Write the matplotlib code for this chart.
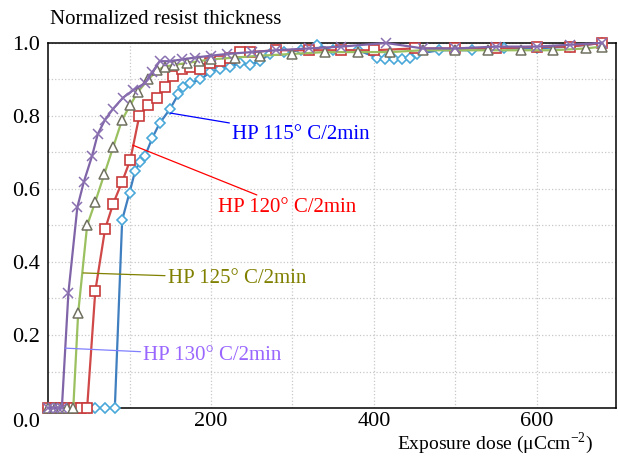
import matplotlib
matplotlib.use("Agg")
import matplotlib.pyplot as plt
import matplotlib.transforms as mtransforms

# dose (uC/cm^2) and normalized thickness
dose_115 = [0, 10, 20, 30, 40, 50, 58, 70, 82, 91, 100, 107, 113, 119, 128, 137, 150,
            160, 166, 174, 187, 199, 211, 223, 236, 248, 260, 272, 290, 310, 330, 350,
            380, 404, 414, 424, 434, 444, 453, 480, 520, 560, 600, 640, 680]
thick_115 = [0, 0, 0, 0, 0, 0, 0, 0, 0, 0.515, 0.59, 0.65, 0.675, 0.69, 0.74, 0.78, 0.82,
             0.86, 0.88, 0.89, 0.90, 0.92, 0.93, 0.935, 0.945, 0.94, 0.95, 0.97, 0.975,
             0.98, 0.995, 0.98, 0.98, 0.96, 0.955, 0.955, 0.955, 0.96, 0.97, 0.98, 0.98,
             0.985, 0.985, 0.99, 1.0]

dose_120 = [0, 8, 16, 24, 32, 40, 48, 58, 70, 80, 91, 101, 112, 123, 134, 144, 153, 164,
            174, 187, 199, 211, 223, 236, 248, 280, 320, 360, 400, 450, 500, 550, 600,
            640, 680]
thick_120 = [0, 0, 0, 0, 0, 0, 0, 0.32, 0.49, 0.56, 0.62, 0.68, 0.80, 0.83, 0.85, 0.88,
             0.91, 0.93, 0.935, 0.93, 0.945, 0.95, 0.96, 0.975, 0.975, 0.98, 0.98, 0.98,
             0.98, 0.985, 0.985, 0.985, 0.99, 0.99, 1.0]

dose_125 = [0, 8, 16, 23, 31, 37, 48, 58, 69, 80, 91, 101, 110, 123, 134, 143, 155, 170,
            185, 200, 230, 260, 300, 340, 380, 420, 460, 500, 540, 580, 620, 660, 680]
thick_125 = [0, 0, 0, 0, 0, 0.26, 0.50, 0.565, 0.64, 0.715, 0.79, 0.83, 0.865, 0.90,
             0.925, 0.935, 0.94, 0.945, 0.95, 0.955, 0.96, 0.965, 0.97, 0.975, 0.975,
             0.975, 0.98, 0.98, 0.98, 0.98, 0.98, 0.985, 0.99]

dose_130 = [0, 6, 12, 17, 25, 36, 44, 54, 61, 70, 80, 92, 104, 119, 128, 137, 150, 165,
            180, 200, 220, 250, 280, 320, 360, 415, 460, 500, 550, 600, 640, 680]
thick_130 = [0, 0, 0, 0, 0.315, 0.55, 0.62, 0.69, 0.75, 0.79, 0.82, 0.85, 0.87, 0.89,
             0.92, 0.95, 0.95, 0.955, 0.96, 0.965, 0.97, 0.975, 0.98, 0.985, 0.99, 1.0,
             0.985, 0.985, 0.99, 0.99, 0.995, 1.0]

labels = ["HP 115\u00b0 C/2min", "HP 120\u00b0 C/2min", "HP 125\u00b0 C/2min", "HP 130\u00b0 C/2min"]

plt.rcParams['font.family'] = ['Liberation Serif', 'DejaVu Serif']

fig = plt.figure(figsize=(6.18, 4.57), dpi=100)
ax = fig.add_axes([0.0777, 0.1072, 0.919, 0.7988])

ax.plot(dose_115, thick_115, color='#3f7fc0', lw=1.6, marker='D', ms=5,
        mfc='white', mec='#4aa8d8', mew=1.2, clip_on=False, zorder=3)
ax.plot(dose_120, thick_120, color='#d04848', lw=1.6, marker='s', ms=7,
        mfc='white', mec='#c83a3a', mew=1.2, clip_on=False, zorder=4)
ax.plot(dose_125, thick_125, color='#9bc060', lw=1.6, marker='^', ms=7,
        mfc='white', mec='#707060', mew=1.1, clip_on=False, zorder=5)
ax.plot(dose_130, thick_130, color='#8064a8', lw=1.6, marker='x', ms=7,
        mec='#8a70b0', mew=1.1, clip_on=False, zorder=6)

# callouts
notes = [
    (labels[0], (150, 0.808), (226, 0.748), '#0000ff', '#0000ff'),
    (labels[1], (104, 0.72), (209, 0.55), '#ff0000', '#ff0000'),
    (labels[2], (43, 0.37), (147, 0.356), '#808000', '#808000'),
    (labels[3], (21, 0.164), (117, 0.145), '#9966ff', '#8080ff'),
]
for txt, xy, xytext, tcol, lcol in notes:
    ax.annotate(txt, xy=xy, xytext=xytext, color=tcol, fontsize=15,
                va='center', ha='left',
                arrowprops=dict(arrowstyle='-', color=lcol, lw=0.9,
                                shrinkA=0, shrinkB=0), zorder=7)

ax.set_xlim(0, 697)
ax.set_ylim(0, 1.0)
ax.set_xticks([200, 400, 600])
ax.set_xticks([100, 300, 500], minor=True)
ax.set_yticks([0.0, 0.2, 0.4, 0.6, 0.8, 1.0])
ax.set_yticks([0.1, 0.3, 0.5, 0.7, 0.9], minor=True)
ax.set_yticklabels(['0.0', '0.2', '0.4', '0.6', '0.8', '1.0'])
ax.tick_params(which='both', length=0, labelsize=16, pad=6)
ax.tick_params(axis='x', pad=3)
ax.grid(True, which='both', color='#c8c8c8', ls=':', lw=0.9)
ax.set_axisbelow(True)
for s in ax.spines.values():
    s.set_color('black')
    s.set_linewidth(1.1)

# the 0.0 label sits a little lower in the original
lab0 = ax.get_yticklabels()[0]
lab0.set_transform(lab0.get_transform() +
                   mtransforms.ScaledTranslation(0, -0.12, fig.dpi_scale_trans))

fig.text(50 / 618, 1 - 20 / 457, "Normalized resist thickness", fontsize=15,
         ha='left', va='center')
fig.text(593 / 618, 1 - 443 / 457, "Exposure dose (\u03bcCcm$^{\\mathregular{-2}}$)",
         fontsize=14, ha='right', va='center')

fig.savefig("out.png", dpi=100)
